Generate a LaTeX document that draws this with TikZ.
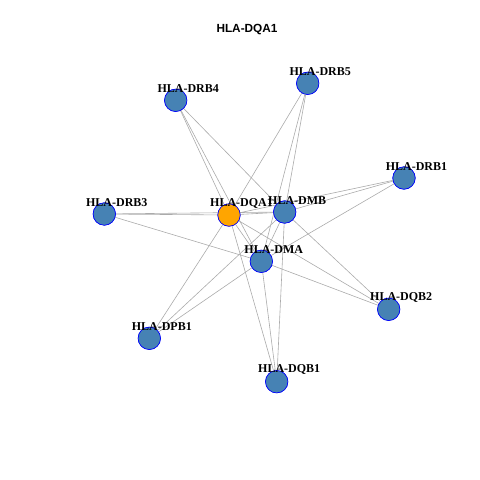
\documentclass[tikz,border=0pt]{standalone}
\usepackage{fontspec}
\setmainfont{Liberation Serif}
\newfontfamily\titlefont{Liberation Sans}
\definecolor{steel}{HTML}{4682B4}
\definecolor{orng}{HTML}{FFA500}
\definecolor{edgegray}{HTML}{ABABAB}
\begin{document}
\begin{tikzpicture}[x=1pt,y=-1pt,
  vert/.style={circle,draw=blue,line width=0.6pt,fill=steel,minimum size=22.4pt,inner sep=0pt},
  hub/.style={vert,fill=orng},
  lbl/.style={font=\bfseries\fontsize{12}{12}\selectfont,inner sep=0pt},
  edge/.style={draw=edgegray,line width=0.6pt}]
\useasboundingbox (0,0) rectangle (480,480);
\node[font=\titlefont\bfseries\fontsize{11.8}{12}\selectfont] (title) at (247,30) {HLA-DQA1};
% vertex positions
\node[hub]  (DQA1) at (229,215) {};
\node[vert] (DMB)  at (284.7,212) {};
\node[vert] (DMA)  at (261.3,261.3) {};
\node[vert] (DRB4) at (175.7,100.3) {};
\node[vert] (DRB5) at (307.7,83.3) {};
\node[vert] (DRB1) at (404,178) {};
\node[vert] (DRB3) at (104.3,214) {};
\node[vert] (DQB2) at (388.7,309.3) {};
\node[vert] (DPB1) at (149.3,338.3) {};
\node[vert] (DQB1) at (276.7,381.7) {};
% edges
\foreach \a/\b in {DQA1/DMB,DQA1/DMA,DMB/DMA,
  DRB4/DQA1,DRB4/DMB,DRB4/DMA,
  DRB5/DQA1,DRB5/DMB,DRB5/DMA,
  DRB1/DQA1,DRB1/DMB,DRB1/DMA,
  DRB3/DQA1,DRB3/DMB,DRB3/DMA,
  DQB2/DQA1,DQB2/DMB,DQB2/DMA,
  DPB1/DQA1,DPB1/DMB,DPB1/DMA,
  DQB1/DQA1,DQB1/DMB,DQB1/DMA}
  {\path[edge] (\a.center) -- (\b.center);}
% vertices drawn over the edges
\foreach \n/\s in {DQA1/hub,DMB/vert,DMA/vert,DRB4/vert,DRB5/vert,DRB1/vert,DRB3/vert,DQB2/vert,DPB1/vert,DQB1/vert}
  {\node[\s] at (\n.center) {};}
% labels
\foreach \n/\t in {DQA1/HLA-DQA1,DMB/HLA-DMB,DMA/HLA-DMA,DRB4/HLA-DRB4,DRB5/HLA-DRB5,DRB1/HLA-DRB1,DRB3/HLA-DRB3,DQB2/HLA-DQB2,DPB1/HLA-DPB1,DQB1/HLA-DQB1}
  {\node[lbl] (l\n) at ([xshift=12.5pt,yshift=11.8pt]\n.center) {\t};}
\end{tikzpicture}
\end{document}
